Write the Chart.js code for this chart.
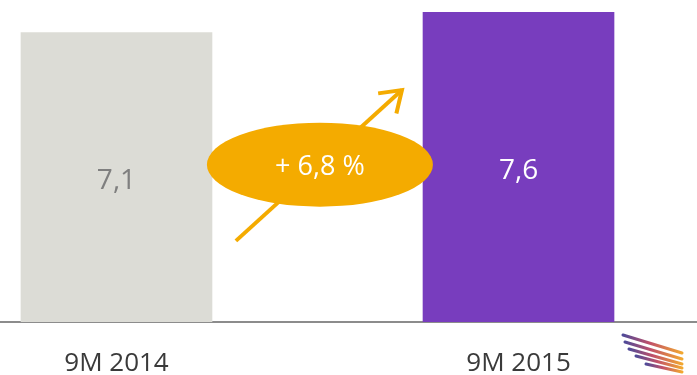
<!DOCTYPE html>
<html>
<head>
<meta charset="utf-8">
<script src="https://cdn.jsdelivr.net/npm/chart.js@4.4.1/dist/chart.umd.min.js"></script>
<style>
  html, body { margin: 0; padding: 0; background: #fff; }
  #wrap { width: 697px; height: 375px; }
</style>
</head>
<body>
<div id="wrap"><canvas id="growthChart"></canvas></div>
<script>
// periods and values (bn)
const periods = ['9M 2014', '9M 2015'];
const values = [7.1, 7.6];
const barColors = ['#DCDCD6', '#783DBE'];
const valueColors = ['#7F7F7F', '#FFFFFF'];
const growthPct = 6.8;

const orange = '#F4AB00';
const fmt = v => v.toFixed(1).replace('.', ',');

// value labels, growth bubble with arrow, small logo
const decorations = {
    id: 'decorations',
    afterDatasetsDraw(chart) {
        const ctx = chart.ctx;
        const xs = chart.scales.x, ys = chart.scales.y;
        const meta = chart.getDatasetMeta(0);

        ctx.save();
        ctx.font = '28px "Open Sans"';
        ctx.textAlign = 'center';
        ctx.textBaseline = 'alphabetic';
        meta.data.forEach((bar, i) => {
            const mid = (bar.y + bar.base) / 2;
            ctx.fillStyle = valueColors[i];
            ctx.fillText(fmt(values[i]), bar.x, mid + 12);
        });

        // arrow
        const x0 = xs.getPixelForValue(0.297), y0 = ys.getPixelForValue(1.99);
        const x1 = xs.getPixelForValue(0.71), y1 = ys.getPixelForValue(5.69);
        ctx.strokeStyle = orange;
        ctx.lineWidth = 4;
        ctx.lineCap = 'butt';
        ctx.beginPath();
        ctx.moveTo(x0, y0);
        ctx.lineTo(x1, y1);
        ctx.stroke();
        const ang = Math.atan2(y1 - y0, x1 - x0);
        ctx.beginPath();
        ctx.moveTo(x1 - 24 * Math.cos(ang - 0.6), y1 - 24 * Math.sin(ang - 0.6));
        ctx.lineTo(x1, y1);
        ctx.lineTo(x1 - 24 * Math.cos(ang + 0.6), y1 - 24 * Math.sin(ang + 0.6));
        ctx.stroke();

        // bubble
        const cx = xs.getPixelForValue(0.506), cy = ys.getPixelForValue(3.86);
        ctx.fillStyle = orange;
        ctx.beginPath();
        ctx.ellipse(cx, cy, 113, 42, 0, 0, Math.PI * 2);
        ctx.fill();
        ctx.fillStyle = '#FFFFFF';
        ctx.font = '27px "Open Sans"';
        ctx.fillText('+ ' + fmt(growthPct) + ' %', cx, cy + 10);

        // logo stripes
        const w = chart.width, h = chart.height;
        const stripes = [
            [w - 74, h - 40, w - 15, h - 22],
            [w - 72, h - 33, w - 15, h - 16],
            [w - 68, h - 26, w - 15, h - 11],
            [w - 61, h - 19, w - 15, h - 7],
            [w - 51, h - 11, w - 15, h - 3]
        ];
        ctx.lineWidth = 3;
        ctx.lineCap = 'round';
        ctx.filter = 'blur(0.6px)';
        stripes.forEach(s => {
            const g = ctx.createLinearGradient(s[0], s[1], s[2], s[3]);
            g.addColorStop(0, '#4F4A98');
            g.addColorStop(0.45, '#C0506A');
            g.addColorStop(1, '#F2A830');
            ctx.strokeStyle = g;
            ctx.beginPath();
            ctx.moveTo(s[0], s[1]);
            ctx.lineTo(s[2], s[3]);
            ctx.stroke();
        });
        ctx.restore();
    }
};

new Chart(document.getElementById('growthChart'), {
    type: 'bar',
    data: {
        datasets: [{
            data: values.map((v, i) => ({ x: i, y: v })),
            backgroundColor: barColors,
            borderWidth: 0,
            barThickness: 191
        }]
    },
    options: {
        responsive: true,
        maintainAspectRatio: false,
        animation: false,
        layout: { padding: 0 },
        plugins: { legend: { display: false }, tooltip: { enabled: false } },
        scales: {
            x: {
                type: 'linear',
                offset: false,
                min: -0.2898,
                max: 1.444,
                afterBuildTicks: scale => { scale.ticks = periods.map((p, i) => ({ value: i })); },
                afterFit: scale => { scale.height = 53; },
                grid: { display: false, drawTicks: false },
                border: { display: true, color: '#8C8C8C', width: 2 },
                ticks: {
                    autoSkip: false,
                    maxRotation: 0,
                    padding: 29,
                    color: '#3A3A3A',
                    font: { family: 'Open Sans', size: 26, lineHeight: 1 },
                    callback: v => periods[v]
                }
            },
            y: {
                display: false,
                min: 0,
                max: 7.9
            }
        }
    },
    plugins: [decorations]
});
</script>
</body>
</html>
